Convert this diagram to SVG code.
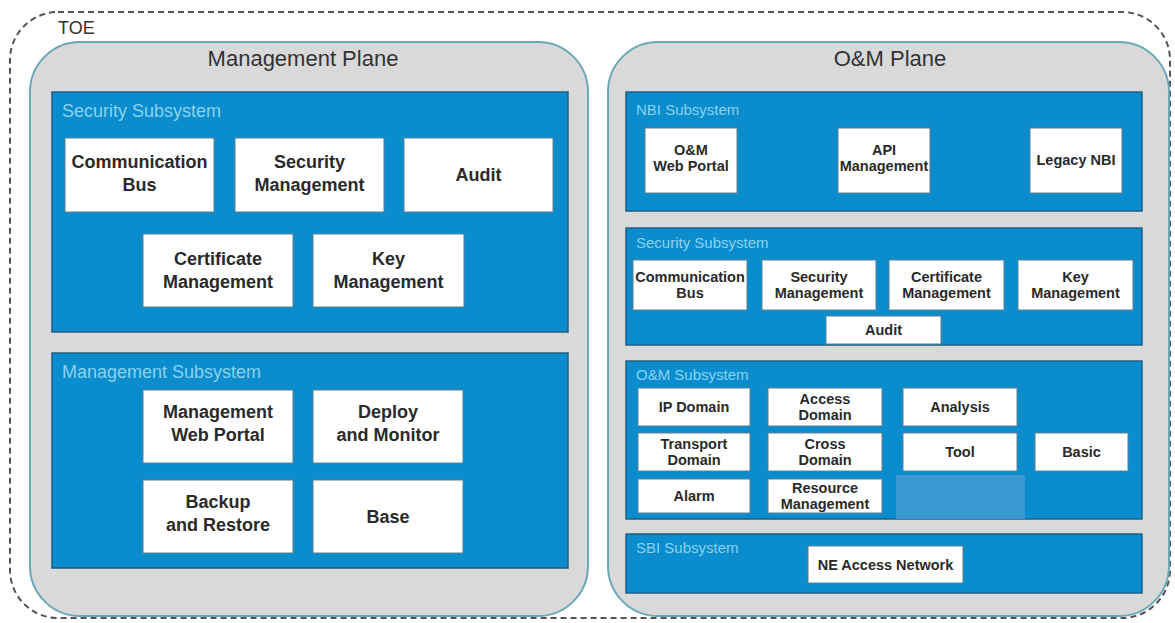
<svg xmlns="http://www.w3.org/2000/svg" width="1175" height="623" viewBox="0 0 1175 623">
<style>
.plane{fill:#d9d9d9;stroke:#6aa8b6;stroke-width:2}
.sub{fill:#0b8ccc;stroke:#1d5f86;stroke-width:1.5}
.box{fill:#ffffff;stroke:#5e7f92;stroke-width:1}
.ptitle{font-family:"Liberation Sans",Arial,sans-serif;font-size:22px;fill:#333;text-anchor:middle}
.slabel{font-family:"Liberation Sans",Arial,sans-serif;font-size:18px;fill:#8ad2f0}
.slabel2{font-family:"Liberation Sans",Arial,sans-serif;font-size:15px;fill:#8ad2f0}
.bl{font-family:"Liberation Sans",Arial,sans-serif;font-size:18px;font-weight:bold;fill:#2a2a2a;text-anchor:middle}
.bs{font-family:"Liberation Sans",Arial,sans-serif;font-size:14.5px;font-weight:bold;fill:#2a2a2a;text-anchor:middle}
</style>
<rect width="1175" height="623" fill="#ffffff"/>
<g id="toe">
<rect x="10" y="12" width="1160" height="606" rx="48" fill="none" stroke="#555" stroke-width="2" stroke-dasharray="6 4"/>
<text x="58" y="34" font-family="Liberation Sans,Arial,sans-serif" font-size="18" fill="#333">TOE</text>
</g>
<g id="management-plane">
<rect class="plane" x="30" y="42" width="558" height="574" rx="50"/>
<text class="ptitle" x="303" y="66">Management Plane</text>
</g>
<g id="mp-security">
<rect class="sub" x="52" y="92" width="516" height="240"/>
<text class="slabel" x="62" y="117">Security Subsystem</text>
</g>
<g id="mp-comm-bus"><rect class="box" x="65" y="138" width="149" height="74"/><text class="bl" x="139.5" y="168">Communication</text><text class="bl" x="139.5" y="191">Bus</text></g>
<g id="mp-sec-mgmt"><rect class="box" x="235" y="138" width="149" height="74"/><text class="bl" x="309.5" y="168">Security</text><text class="bl" x="309.5" y="191">Management</text></g>
<g id="mp-audit"><rect class="box" x="404" y="138" width="149" height="74"/><text class="bl" x="478.5" y="181">Audit</text></g>
<g id="mp-cert-mgmt"><rect class="box" x="143" y="234" width="150" height="73"/><text class="bl" x="218" y="265">Certificate</text><text class="bl" x="218" y="288">Management</text></g>
<g id="mp-key-mgmt"><rect class="box" x="313" y="234" width="151" height="73"/><text class="bl" x="388.5" y="265">Key</text><text class="bl" x="388.5" y="288">Management</text></g>
<g id="mp-management">
<rect class="sub" x="52" y="353" width="516" height="215"/>
<text class="slabel" x="62" y="378">Management Subsystem</text>
</g>
<g id="mp-web-portal"><rect class="box" x="143" y="390" width="150" height="73"/><text class="bl" x="218" y="418">Management</text><text class="bl" x="218" y="441">Web Portal</text></g>
<g id="mp-deploy"><rect class="box" x="313" y="390" width="150" height="73"/><text class="bl" x="388" y="418">Deploy</text><text class="bl" x="388" y="441">and Monitor</text></g>
<g id="mp-backup"><rect class="box" x="143" y="480" width="150" height="73"/><text class="bl" x="218" y="508">Backup</text><text class="bl" x="218" y="531">and Restore</text></g>
<g id="mp-base"><rect class="box" x="313" y="480" width="150" height="73"/><text class="bl" x="388" y="523">Base</text></g>

<g id="om-plane">
<rect class="plane" x="608" y="42" width="561" height="574" rx="50"/>
<text class="ptitle" x="890" y="66">O&amp;M Plane</text>
</g>
<g id="om-nbi">
<rect class="sub" x="626" y="92" width="516" height="119"/>
<text class="slabel2" x="636" y="115">NBI Subsystem</text>
</g>
<g id="om-web-portal"><rect class="box" x="645" y="128" width="92" height="65"/><text class="bs" x="691" y="155">O&amp;M</text><text class="bs" x="691" y="171">Web Portal</text></g>
<g id="om-api"><rect class="box" x="838" y="128" width="92" height="65"/><text class="bs" x="884" y="155">API</text><text class="bs" x="884" y="171">Management</text></g>
<g id="om-legacy"><rect class="box" x="1030" y="128" width="92" height="65"/><text class="bs" x="1076" y="165">Legacy NBI</text></g>
<g id="om-security">
<rect class="sub" x="626" y="228" width="516" height="117"/>
<text class="slabel2" x="636" y="248">Security Subsystem</text>
</g>
<g id="om-comm-bus"><rect class="box" x="633" y="260" width="114" height="50"/><text class="bs" x="690" y="282">Communication</text><text class="bs" x="690" y="298">Bus</text></g>
<g id="om-sec-mgmt"><rect class="box" x="762" y="260" width="114" height="50"/><text class="bs" x="819" y="282">Security</text><text class="bs" x="819" y="298">Management</text></g>
<g id="om-cert-mgmt"><rect class="box" x="889" y="260" width="115" height="50"/><text class="bs" x="946.5" y="282">Certificate</text><text class="bs" x="946.5" y="298">Management</text></g>
<g id="om-key-mgmt"><rect class="box" x="1018" y="260" width="115" height="50"/><text class="bs" x="1075.5" y="282">Key</text><text class="bs" x="1075.5" y="298">Management</text></g>
<g id="om-audit"><rect class="box" x="826" y="316" width="115" height="28"/><text class="bs" x="883.5" y="335">Audit</text></g>
<g id="om-om">
<rect class="sub" x="626" y="361" width="516" height="158"/>
<text class="slabel2" x="636" y="380">O&amp;M Subsystem</text>
<rect x="896" y="475" width="129" height="44" fill="#3a98d2"/>
</g>
<g id="om-ip"><rect class="box" x="638" y="388" width="112" height="38"/><text class="bs" x="694" y="412">IP Domain</text></g>
<g id="om-access"><rect class="box" x="768" y="388" width="114" height="38"/><text class="bs" x="825" y="404">Access</text><text class="bs" x="825" y="420">Domain</text></g>
<g id="om-analysis"><rect class="box" x="903" y="388" width="114" height="38"/><text class="bs" x="960" y="412">Analysis</text></g>
<g id="om-transport"><rect class="box" x="638" y="433" width="112" height="38"/><text class="bs" x="694" y="449">Transport</text><text class="bs" x="694" y="465">Domain</text></g>
<g id="om-cross"><rect class="box" x="768" y="433" width="114" height="38"/><text class="bs" x="825" y="449">Cross</text><text class="bs" x="825" y="465">Domain</text></g>
<g id="om-tool"><rect class="box" x="903" y="433" width="114" height="38"/><text class="bs" x="960" y="457">Tool</text></g>
<g id="om-basic"><rect class="box" x="1035" y="433" width="93" height="38"/><text class="bs" x="1081.5" y="457">Basic</text></g>
<g id="om-alarm"><rect class="box" x="638" y="479" width="112" height="34"/><text class="bs" x="694" y="501">Alarm</text></g>
<g id="om-resource"><rect class="box" x="768" y="479" width="114" height="34"/><text class="bs" x="825" y="493">Resource</text><text class="bs" x="825" y="509">Management</text></g>
<g id="om-sbi">
<rect class="sub" x="626" y="534" width="516" height="59"/>
<text class="slabel2" x="636" y="553">SBI Subsystem</text>
</g>
<g id="om-ne-access"><rect class="box" x="808" y="546" width="155" height="37"/><text class="bs" x="885.5" y="570">NE Access Network</text></g>
<g id="connectors"></g>
</svg>
